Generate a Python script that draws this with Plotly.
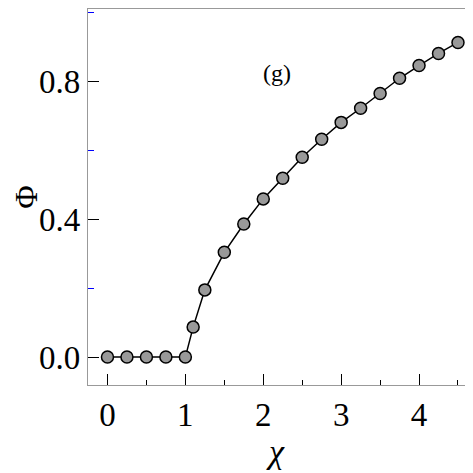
import plotly.graph_objects as go

# order parameter vs chi
chi = [0, 0.25, 0.5, 0.75, 1.0, 1.1, 1.25, 1.5, 1.75, 2.0, 2.25, 2.5,
       2.75, 3.0, 3.25, 3.5, 3.75, 4.0, 4.25, 4.5]
phi = [0, 0, 0, 0, 0, 0.087, 0.195, 0.304, 0.386, 0.459, 0.519, 0.58,
       0.632, 0.681, 0.722, 0.765, 0.809, 0.846, 0.881, 0.913]

x_ticks = [0, 1, 2, 3, 4]
y_ticks = [0.0, 0.4, 0.8]
y_labels = ["0.0", "0.4", "0.8"]

font = "Liberation Serif"

fig = go.Figure()
fig.add_trace(go.Scatter(
    x=chi, y=phi, mode="lines+markers",
    line=dict(color="black", width=1.5),
    marker=dict(size=12, color="#999999", line=dict(color="black", width=1.5)),
))

# panel label
fig.add_annotation(x=0.5, y=0.87, xref="paper", yref="paper", text="(g)",
                   showarrow=False, font=dict(family=font, size=24, color="black"))

axis_common = dict(
    showgrid=False, zeroline=False, showline=True, linecolor="#999999",
    linewidth=1.2, mirror=True, ticks="inside", ticklen=11, tickwidth=1,
    tickcolor="black", tickfont=dict(family=font, size=33, color="black"),
)

fig.update_xaxes(
    **axis_common, range=[-0.25, 4.59], tickvals=x_ticks,
    minor=dict(dtick=0.5, ticks="inside", ticklen=5, tickcolor="black"),
    title=dict(text="<i>χ</i>", font=dict(family=font, size=34, color="black"),
               standoff=6),
)
fig.update_yaxes(
    **axis_common, range=[-0.081, 1.01], tickvals=y_ticks, ticktext=y_labels,
    minor=dict(tickvals=[0.2, 0.6, 1.0], ticks="inside", ticklen=6,
               tickcolor="blue"),
    title=dict(text="Φ", font=dict(family=font, size=32, color="black"),
               standoff=8),
)

# page body has an 8px margin, so the figure is 8px smaller than the window
fig.update_layout(
    width=465, height=465, showlegend=False,
    margin=dict(l=80, r=8, t=1, b=88),
    plot_bgcolor="white", paper_bgcolor="white",
)

fig.write_html("out.html")
